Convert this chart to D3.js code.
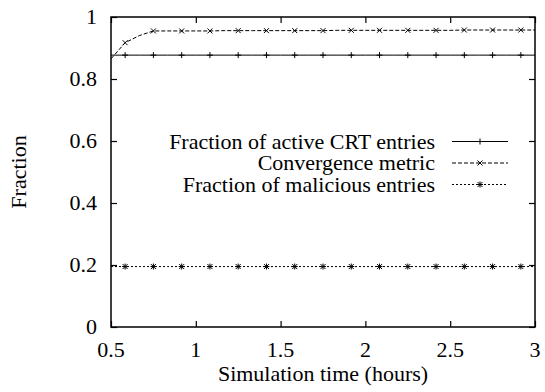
<!DOCTYPE html>
<html>
<head>
<meta charset="utf-8">
<script src="https://cdn.jsdelivr.net/npm/d3@7"></script>
<style>
  body { margin: 0; background: #fff; }
</style>
</head>
<body>
<div id="chart"></div>
<script>
// sample times (hours), one every 10 minutes
const times = [0.5, 0.5833, 0.6667, 0.75, 0.8333, 0.9167, 1.0, 1.0833, 1.1667, 1.25, 1.3333, 1.4167, 1.5,
  1.5833, 1.6667, 1.75, 1.8333, 1.9167, 2.0, 2.0833, 2.1667, 2.25, 2.3333, 2.4167, 2.5,
  2.5833, 2.6667, 2.75, 2.8333, 2.9167, 3.0];
const markTimes = [0.5833, 0.75, 0.9167, 1.0833, 1.25, 1.4167, 1.5833, 1.75, 1.9167, 2.0833, 2.25, 2.4167, 2.5833, 2.75, 2.9167];

const activeCrt = [0.877, 0.877, 0.877, 0.877, 0.877, 0.877, 0.877, 0.877, 0.877, 0.877, 0.877, 0.877, 0.877,
  0.877, 0.877, 0.877, 0.877, 0.877, 0.877, 0.877, 0.877, 0.877, 0.877, 0.877, 0.877,
  0.877, 0.877, 0.877, 0.877, 0.877, 0.877];
const convergence = [0.865, 0.917, 0.94, 0.955, 0.955, 0.955, 0.955, 0.955, 0.956, 0.956, 0.956, 0.956, 0.956,
  0.956, 0.956, 0.956, 0.957, 0.957, 0.957, 0.957, 0.957, 0.957, 0.957, 0.957, 0.957,
  0.958, 0.958, 0.958, 0.958, 0.958, 0.958];
const malicious = [0.195, 0.195, 0.195, 0.195, 0.195, 0.195, 0.195, 0.195, 0.195, 0.195, 0.195, 0.195, 0.195,
  0.195, 0.195, 0.195, 0.195, 0.195, 0.195, 0.195, 0.195, 0.195, 0.195, 0.195, 0.195,
  0.195, 0.195, 0.195, 0.195, 0.195, 0.195];

const seriesNames = ["Fraction of active CRT entries", "Convergence metric", "Fraction of malicious entries"];
const xTicks = [0.5, 1, 1.5, 2, 2.5, 3];
const yTicks = [0, 0.2, 0.4, 0.6, 0.8, 1];

const W = 545, H = 392;
const margin = { top: 17, right: 10, bottom: 65, left: 111 };
const width = W - margin.left - margin.right,
  height = H - margin.top - margin.bottom;

const root = d3.select("#chart").append("svg")
  .attr("width", W).attr("height", H);
const svg = root.append("g")
  .attr("transform", "translate(" + margin.left + "," + margin.top + ")");

const x = d3.scaleLinear().domain([0.5, 3]).range([0, width]);
const y = d3.scaleLinear().domain([0, 1]).range([height, 0]);

const fs = 22, tickLen = 6;
const font = "'Liberation Serif', 'Times New Roman', serif";

// axes with inward ticks on all four sides
svg.append("g").attr("transform", "translate(0," + height + ")")
  .call(d3.axisTop(x).tickValues(xTicks).tickSize(tickLen).tickFormat(""))
  .call(g => g.select(".domain").remove());
svg.append("g")
  .call(d3.axisBottom(x).tickValues(xTicks).tickSize(tickLen).tickFormat(""))
  .call(g => g.select(".domain").remove());
svg.append("g")
  .call(d3.axisRight(y).tickValues(yTicks).tickSize(tickLen).tickFormat(""))
  .call(g => g.select(".domain").remove());
svg.append("g").attr("transform", "translate(" + width + ",0)")
  .call(d3.axisLeft(y).tickValues(yTicks).tickSize(tickLen).tickFormat(""))
  .call(g => g.select(".domain").remove());
svg.selectAll(".tick line").attr("stroke", "#000").attr("stroke-width", 1.2);

svg.selectAll(".xlab").data(xTicks).enter().append("text")
  .attr("x", d => x(d)).attr("y", height + 30)
  .attr("text-anchor", "middle").style("font-family", font).style("font-size", fs + "px")
  .text(d => d3.format("")(d));
svg.selectAll(".ylab").data(yTicks).enter().append("text")
  .attr("x", -14).attr("y", d => y(d)).attr("dy", "0.33em")
  .attr("text-anchor", "end").style("font-family", font).style("font-size", fs + "px")
  .text(d => d3.format("")(d));

svg.append("text").attr("x", width / 2).attr("y", height + 54)
  .attr("text-anchor", "middle").style("font-family", font).style("font-size", fs + "px")
  .text("Simulation time (hours)");
svg.append("text").attr("transform", "rotate(-90)")
  .attr("x", -(height / 2)).attr("y", -85)
  .attr("text-anchor", "middle").style("font-family", font).style("font-size", fs + "px")
  .text("Fraction");

// marker shapes
const markers = [
  (g, cx, cy) => g.append("path").attr("d", `M${cx - 3},${cy}H${cx + 3}M${cx},${cy - 3}V${cy + 3}`),
  (g, cx, cy) => g.append("path").attr("d", `M${cx - 2.5},${cy - 2.5}L${cx + 2.5},${cy + 2.5}M${cx - 2.5},${cy + 2.5}L${cx + 2.5},${cy - 2.5}`),
  (g, cx, cy) => g.append("path").attr("d", `M${cx - 2.5},${cy - 2.5}L${cx + 2.5},${cy + 2.5}M${cx - 2.5},${cy + 2.5}L${cx + 2.5},${cy - 2.5}M${cx},${cy - 3}V${cy + 3}M${cx - 3},${cy}H${cx + 3}`)
];
const dashes = [null, "4,2", "2,2"];
const seriesVals = [activeCrt, convergence, malicious];

const line = d3.line().x(d => x(d[0])).y(d => y(d[1]));

seriesVals.forEach((vals, i) => {
  const pts = times.map((t, j) => [t, vals[j]]);
  svg.append("path").datum(pts)
    .attr("d", line).attr("fill", "none").attr("stroke", "#000")
    .attr("stroke-width", 1).attr("stroke-dasharray", dashes[i]);
  const mg = svg.append("g").attr("stroke", "#000").attr("stroke-width", 1).attr("fill", "none");
  pts.filter(p => markTimes.some(m => Math.abs(m - p[0]) < 1e-3))
    .forEach(p => markers[i](mg, x(p[0]), y(p[1])));
});

// legend
const legY = [124.5, 146, 167.5];
seriesNames.forEach((name, i) => {
  svg.append("text").attr("x", 324).attr("y", legY[i]).attr("dy", "0.32em")
    .attr("text-anchor", "end").style("font-family", font).style("font-size", fs + "px").text(name);
  svg.append("line").attr("x1", 341).attr("x2", 397)
    .attr("y1", legY[i]).attr("y2", legY[i])
    .attr("stroke", "#000").attr("stroke-width", 1).attr("stroke-dasharray", dashes[i]);
  const mg = svg.append("g").attr("stroke", "#000").attr("stroke-width", 1).attr("fill", "none");
  markers[i](mg, 369, legY[i]);
});

// frame
svg.append("rect").attr("width", width).attr("height", height)
  .attr("fill", "none").attr("stroke", "#000").attr("stroke-width", 1.5);
</script>
</body>
</html>
